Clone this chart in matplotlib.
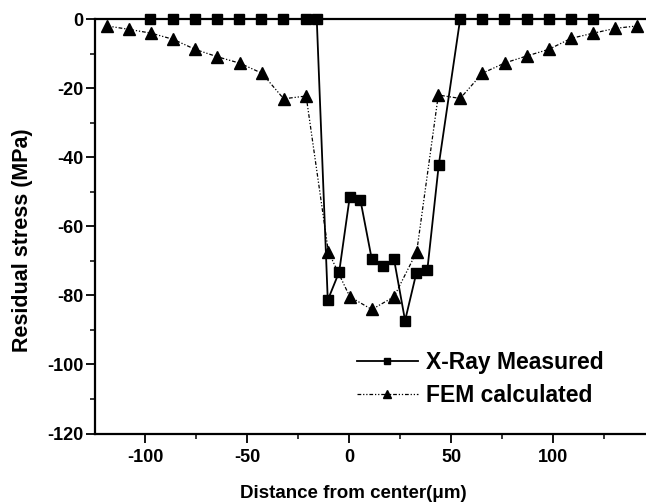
import matplotlib
matplotlib.use("Agg")
import matplotlib.pyplot as plt
from matplotlib.ticker import MultipleLocator

plt.rcParams['font.family'] = ['Liberation Sans', 'DejaVu Sans']
plt.rcParams['font.weight'] = 'bold'
plt.rcParams['axes.unicode_minus'] = False

xray_x = [-97.7, -86.7, -75.6, -64.7, -53.9, -43.3, -32.4, -21.2, -16.0,
          -10.6, -5.0, 0.2, 5.4, 11.0, 16.4, 21.9, 27.3, 32.8, 38.2, 43.8,
          54.3, 65.2, 75.8, 87.0, 97.8, 108.7, 119.3]
xray_y = [0, 0, 0, 0, 0, 0, 0, 0, 0,
          -81.4, -73.2, -51.4, -52.4, -69.6, -71.6, -69.6, -87.3, -73.6, -72.7, -42.3,
          0, 0, 0, 0, 0, 0, 0]

fem_x = [-118.9, -108.0, -97.2, -86.3, -75.6, -64.9, -53.7, -42.9, -32.2, -21.2,
         -10.3, 0.2, 11.0, 21.9, 33.0,
         43.6, 54.3, 65.2, 76.3, 87.0, 97.7, 108.7, 119.6, 130.4, 141.2]
fem_y = [-2.0, -3.0, -4.1, -5.9, -8.8, -10.9, -12.8, -15.7, -23.1, -22.3,
         -67.4, -80.4, -84.1, -80.4, -67.4,
         -22.0, -23.0, -15.7, -12.7, -10.7, -8.8, -5.6, -4.1, -2.7, -2.0]

x_ticks = [-100, -50, 0, 50, 100]
y_ticks = [0, -20, -40, -60, -80, -100, -120]

fig = plt.figure(figsize=(6.46, 5.04), dpi=100)
ax = fig.add_axes([95/646, 1 - 433.5/504, 1 - 95/646, (433.5 - 19)/504])

ax.plot(xray_x, xray_y, color='black', lw=1.3, marker='s', ms=7.5,
        label='X-Ray Measured', clip_on=False, zorder=4)
ax.plot(fem_x, fem_y, color='black', lw=0.9, marker='^', ms=8.5,
        linestyle=(0, (3, 1.5, 1, 1.5, 1, 1.5)),
        label='FEM calculated', clip_on=False, zorder=3)

ax.set_xlim(-124.7, 145.4)
ax.set_ylim(-120, 0)
ax.set_xticks(x_ticks)
ax.set_yticks(y_ticks)
ax.xaxis.set_minor_locator(MultipleLocator(25))
ax.yaxis.set_minor_locator(MultipleLocator(10))

for s in ['left', 'bottom', 'top']:
    ax.spines[s].set_linewidth(1.6)
ax.spines['right'].set_visible(False)

ax.tick_params(which='major', direction='out', length=6.5, width=1.3,
               labelsize=13, top=False, right=False)
ax.tick_params(which='minor', direction='out', length=3.5, width=1.1,
               top=False, right=False)
ax.tick_params(axis='y', which='major', pad=2)
ax.tick_params(axis='x', which='major', pad=5)
for lab in ax.get_xticklabels() + ax.get_yticklabels():
    lab.set_fontweight('bold')

ax.set_xlabel('Distance from center(μm)', fontsize=13.5, fontweight='bold')
ax.set_ylabel('Residual stress (MPa)', fontsize=15.5, fontweight='bold')
ax.xaxis.set_label_coords(0.468, 1 - 493/504, transform=fig.transFigure)
ax.xaxis.set_label_coords(0.468, (433.5 - 493) / 414.5, transform=ax.transAxes)
ax.xaxis.label.set_va('center')
ax.yaxis.set_label_coords(22.5/646, 1 - 240/504, transform=fig.transFigure)
ax.yaxis.label.set_va('center')

leg = ax.legend(loc='upper left', bbox_to_anchor=(357/646, 1 - 351/504),
                bbox_transform=fig.transFigure, frameon=False,
                fontsize=16.5, handlelength=2.65, handletextpad=0.35,
                markerscale=0.65, borderpad=0, borderaxespad=0, labelspacing=0.45)
for t in leg.get_texts():
    t.set_fontweight('bold')

fig.savefig('out.png', dpi=100)
